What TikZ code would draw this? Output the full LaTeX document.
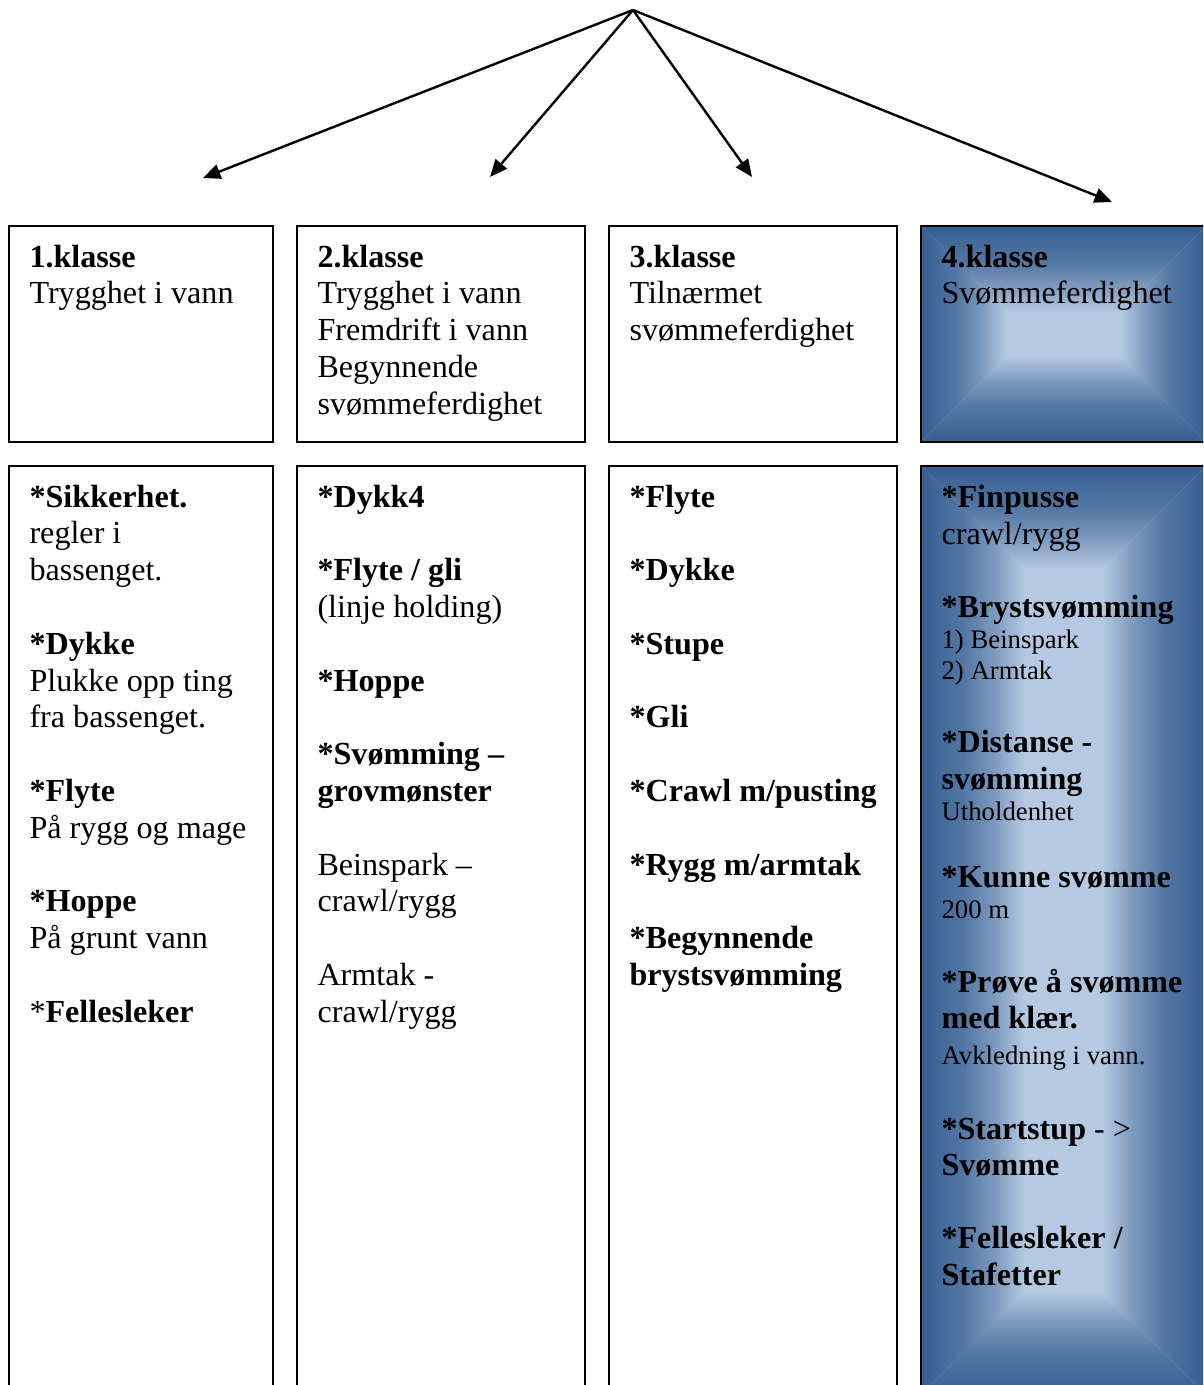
\documentclass[tikz,border=0pt]{standalone}
\usepackage{fontspec}
\setmainfont{Liberation Serif}
\usetikzlibrary{arrows.meta}
\definecolor{dkb}{RGB}{55,96,146}
\definecolor{ltb}{RGB}{182,201,226}
\colorlet{gca}{ltb!22!dkb}
\colorlet{gcb}{ltb!55!dkb}
\tikzset{
  box/.style={draw=black, line width=0.75pt},
  arr/.style={draw=black, line width=0.9pt, -{Triangle[length=6.5pt,width=5.5pt]}},
  txt/.style={anchor=base west, inner sep=0pt, font=\fontsize{12pt}{13.8pt}\selectfont},
  sml/.style={anchor=base west, inner sep=0pt, font=\fontsize{10pt}{11.5pt}\selectfont},
}
% top row line i of a column, bottom row line i of a column
\newcommand\rowA[4]{\node[txt] (#1) at (#2,{267+36.8*#3}) {#4};}
\newcommand\rowB[4]{\node[txt] (#1) at (#2,{507+36.8*#3}) {#4};}
% horizontal ramp: xa xb y0 y1 leftcolour rightcolour
\newcommand\hramp[6]{\shade[left color=#5,right color=#6] ({#1},#3) rectangle ({#2},#4);}
% vertical ramp: ya yb x0 x1 uppercolour lowercolour
\newcommand\vramp[6]{\shade[top color=#5,bottom color=#6] (#3,{#1}) rectangle (#4,{#2});}
% four edge ramps of a "rectangle" gradient (dark edges, light centre)
% #1 x0, #2 y0, #3 x1, #4 y1 (y downward), #5 ramp length D, #6 dark band E
\newcommand\edgeramps[6]{%
  \pgfmathsetmacro\gL{#5-#6}%
  \fill[ltb] (#1,#2) rectangle (#3,#4);
  \begin{scope}
    \clip (#1,#2) -- (\gxa,\gya) -- (\gxb,\gyb) -- (#1,#4) -- cycle;
    \fill[dkb] (#1-1,#2) rectangle (#1+#6,#4);
    \hramp{#1+#6}{#1+#6+0.4*\gL}{#2}{#4}{dkb}{gca}
    \hramp{#1+#6+0.4*\gL}{#1+#6+0.7*\gL}{#2}{#4}{gca}{gcb}
    \hramp{#1+#6+0.7*\gL}{#1+#5}{#2}{#4}{gcb}{ltb}
  \end{scope}
  \begin{scope}
    \clip (#3,#2) -- (\gxc,\gya) -- (\gxd,\gyb) -- (#3,#4) -- cycle;
    \fill[dkb] (#3-#6,#2) rectangle (#3+1,#4);
    \hramp{#3-#5}{#3-#6-0.7*\gL}{#2}{#4}{ltb}{gcb}
    \hramp{#3-#6-0.7*\gL}{#3-#6-0.4*\gL}{#2}{#4}{gcb}{gca}
    \hramp{#3-#6-0.4*\gL}{#3-#6}{#2}{#4}{gca}{dkb}
  \end{scope}
  \begin{scope}
    \clip (#1,#2) -- (#3,#2) -- (\gxc,\gya) -- (\gxa,\gya) -- cycle;
    \fill[dkb] (#1,#2-1) rectangle (#3,#2+#6);
    \vramp{#2+#6}{#2+#6+0.4*\gL}{#1}{#3}{dkb}{gca}
    \vramp{#2+#6+0.4*\gL}{#2+#6+0.7*\gL}{#1}{#3}{gca}{gcb}
    \vramp{#2+#6+0.7*\gL}{#2+#5}{#1}{#3}{gcb}{ltb}
  \end{scope}
  \begin{scope}
    \clip (#1,#4) -- (#3,#4) -- (\gxd,\gyb) -- (\gxb,\gyb) -- cycle;
    \fill[dkb] (#1,#4-#6) rectangle (#3,#4+1);
    \vramp{#4-#5}{#4-#6-0.7*\gL}{#1}{#3}{ltb}{gcb}
    \vramp{#4-#6-0.7*\gL}{#4-#6-0.4*\gL}{#1}{#3}{gcb}{gca}
    \vramp{#4-#6-0.4*\gL}{#4-#6}{#1}{#3}{gca}{dkb}
  \end{scope}
}
\newcommand\gradtall[6]{%
  \pgfmathsetmacro\gcx{(#1+#3)/2}\pgfmathsetmacro\ghw{(#3-#1)/2}%
  \pgfmathsetmacro\gya{#2+\ghw}\pgfmathsetmacro\gyb{#4-\ghw}%
  \let\gxa\gcx\let\gxb\gcx\let\gxc\gcx\let\gxd\gcx
  \edgeramps{#1}{#2}{#3}{#4}{#5}{#6}}
\newcommand\gradwide[6]{%
  \pgfmathsetmacro\gcy{(#2+#4)/2}\pgfmathsetmacro\ghh{(#4-#2)/2}%
  \pgfmathsetmacro\gxa{#1+\ghh}\pgfmathsetmacro\gxc{#3-\ghh}%
  \let\gxb\gxa\let\gxd\gxc\let\gya\gcy\let\gyb\gcy
  \edgeramps{#1}{#2}{#3}{#4}{#5}{#6}}
\begin{document}
\begin{tikzpicture}[x=0.3735pt,y=-0.3735pt]
\useasboundingbox (0,0) rectangle (1203,1385);
\clip (0,0) rectangle (1203,1385);

% arrows
\coordinate (apex) at (633,10);
\coordinate (t1) at (203,178);
\coordinate (t2) at (490,177);
\coordinate (t3) at (752,177);
\coordinate (t4) at (1112,202);
\draw[arr] (apex) -- (t1);
\draw[arr] (apex) -- (t2);
\draw[arr] (apex) -- (t3);
\draw[arr] (apex) -- (t4);

% column 4 gradients
\gradwide{921}{226}{1206}{442}{86}{2}
\gradtall{921}{466}{1206}{1395}{104}{2}

% boxes
\draw[box] (9,226) rectangle (273,442);
\draw[box] (297,226) rectangle (585,442);
\draw[box] (609,226) rectangle (897,442);
\draw[box] (921,226) rectangle (1206,442);
\draw[box] (9,466) rectangle (273,1395);
\draw[box] (297,466) rectangle (585,1395);
\draw[box] (609,466) rectangle (897,1395);
\draw[box] (921,466) rectangle (1206,1395);

% top row texts
\rowA{a1h}{29}{0}{\textbf{1.klasse}}
\rowA{a1a}{29}{1}{Trygghet i vann}
\rowA{a2h}{317}{0}{\textbf{2.klasse}}
\rowA{a2a}{317}{1}{Trygghet i vann}
\rowA{a2b}{317}{2}{Fremdrift i vann}
\rowA{a2c}{317}{3}{Begynnende}
\rowA{a2d}{317}{4}{svømmeferdighet}
\rowA{a3h}{629}{0}{\textbf{3.klasse}}
\rowA{a3a}{629}{1}{Tilnærmet}
\rowA{a3b}{629}{2}{svømmeferdighet}
\rowA{a4h}{941}{0}{\textbf{4.klasse}}
\rowA{a4a}{941}{1}{Svømmeferdighet}

% bottom column 1
\rowB{b1a}{29}{0}{\textbf{*Sikkerhet.}}
\rowB{b1b}{29}{1}{regler i}
\rowB{b1c}{29}{2}{bassenget.}
\rowB{b1d}{29}{4}{\textbf{*Dykke}}
\rowB{b1e}{29}{5}{Plukke opp ting}
\rowB{b1f}{29}{6}{fra bassenget.}
\rowB{b1g}{29}{8}{\textbf{*Flyte}}
\rowB{b1h}{29}{9}{På rygg og mage}
\rowB{b1i}{29}{11}{\textbf{*Hoppe}}
\rowB{b1j}{29}{12}{På grunt vann}
\rowB{b1k}{29}{14}{*\textbf{Fellesleker}}

% bottom column 2
\rowB{b2a}{317}{0}{\textbf{*Dykk4}}
\rowB{b2b}{317}{2}{\textbf{*Flyte / gli}}
\rowB{b2c}{317}{3}{(linje holding)}
\rowB{b2d}{317}{5}{\textbf{*Hoppe}}
\rowB{b2e}{317}{7}{\textbf{*Svømming –}}
\rowB{b2f}{317}{8}{\textbf{grovmønster}}
\rowB{b2g}{317}{10}{Beinspark –}
\rowB{b2h}{317}{11}{crawl/rygg}
\rowB{b2i}{317}{13}{Armtak -}
\rowB{b2j}{317}{14}{crawl/rygg}

% bottom column 3
\rowB{b3a}{629}{0}{\textbf{*Flyte}}
\rowB{b3b}{629}{2}{\textbf{*Dykke}}
\rowB{b3c}{629}{4}{\textbf{*Stupe}}
\rowB{b3d}{629}{6}{\textbf{*Gli}}
\rowB{b3e}{629}{8}{\textbf{*Crawl m/pusting}}
\rowB{b3f}{629}{10}{\textbf{*Rygg m/armtak}}
\rowB{b3g}{629}{12}{\textbf{*Begynnende}}
\rowB{b3h}{629}{13}{\textbf{brystsvømming}}

% bottom column 4
\node[txt] (b4a) at (941,507) {\textbf{*Finpusse}};
\node[txt] (b4b) at (941,544) {crawl/rygg};
\node[txt] (b4c) at (941,617) {\textbf{*Brystsvømming}};
\node[sml] (b4d) at (941,648) {1) Beinspark};
\node[sml] (b4e) at (941,679) {2) Armtak};
\node[txt] (b4f) at (941,752) {\textbf{*Distanse -}};
\node[txt] (b4g) at (941,789) {\textbf{svømming}};
\node[sml] (b4h) at (941,820) {Utholdenhet};
\node[txt] (b4i) at (941,887) {\textbf{*Kunne svømme}};
\node[sml] (b4j) at (941,918) {200 m};
\node[txt] (b4k) at (941,992) {\textbf{*Prøve å svømme}};
\node[txt] (b4l) at (941,1028) {\textbf{med klær.}};
\node[sml] (b4m) at (941,1064) {Avkledning i vann.};
\node[txt] (b4n) at (941,1139) {\textbf{*Startstup} - >};
\node[txt] (b4o) at (941,1175) {\textbf{Svømme}};
\node[txt] (b4p) at (941,1248) {\textbf{*Fellesleker /}};
\node[txt] (b4q) at (941,1285) {\textbf{Stafetter}};
\end{tikzpicture}
\end{document}
